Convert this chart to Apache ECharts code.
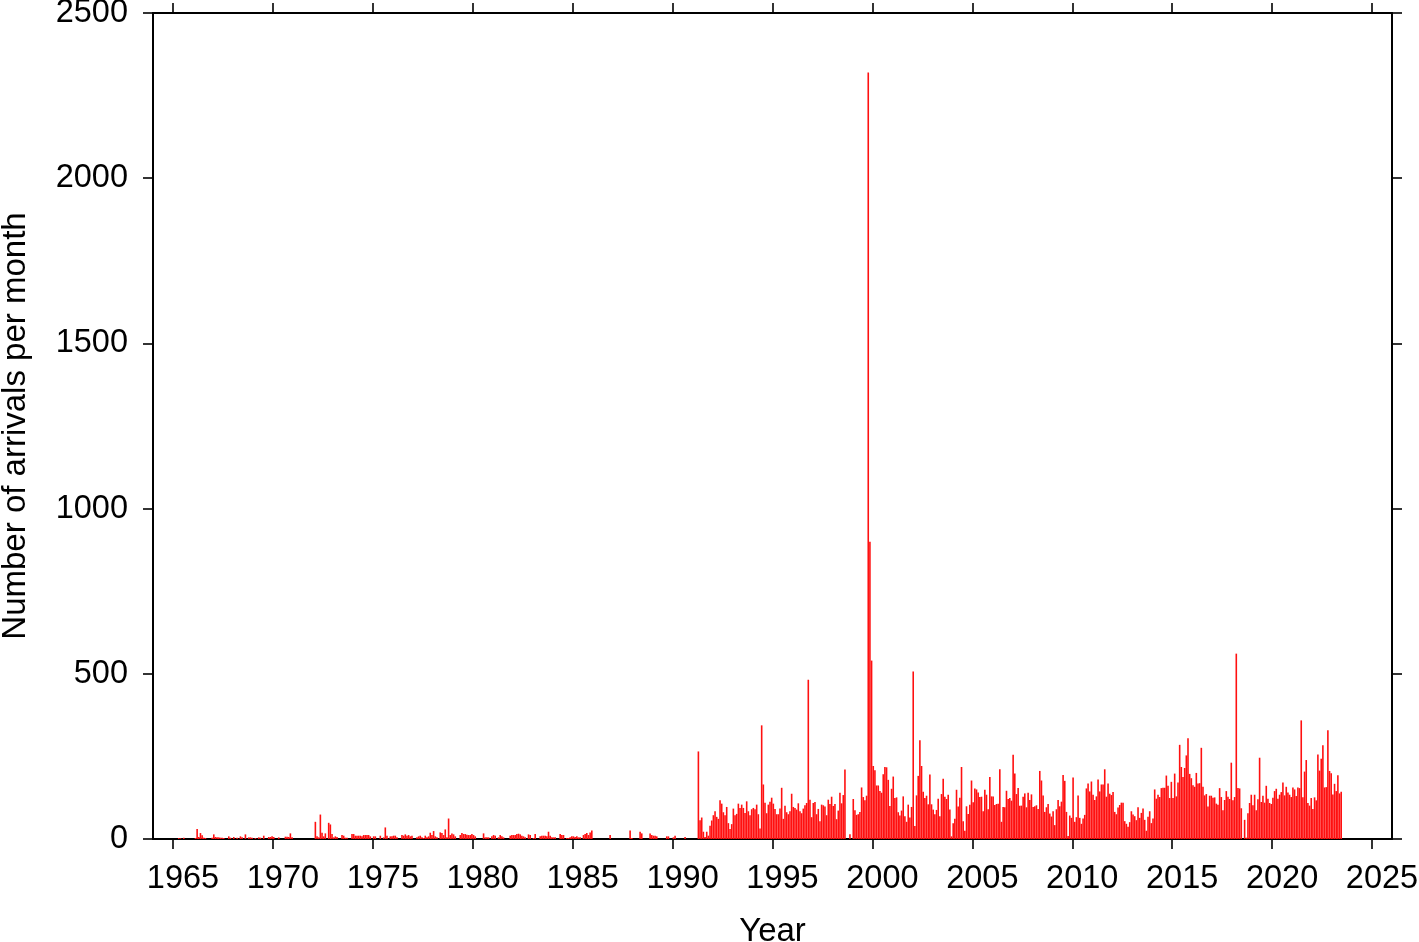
<!DOCTYPE html>
<html><head><meta charset="utf-8">
<script src="https://cdn.jsdelivr.net/npm/echarts@6/dist/echarts.min.js"></script>
<style>html,body{margin:0;padding:0;background:#fff}#c{width:1419px;height:942px}</style>
</head><body><div id="c"></div>
<script>
// Monthly arrivals, one row per year (Jan..Dec), starting January 1965
const firstYear = 1965;
const arrivals1960s = [
  0,0,0,3,2,0,4,0,0,0,0,0,          // 1965
  0,3,30,6,18,11,4,3,0,0,0,4,       // 1966
  14,6,5,5,4,4,3,0,0,8,4,0,         // 1967
  6,0,4,0,8,5,0,14,0,5,5,4,         // 1968
  0,3,0,5,4,0,10,0,0,6,6,8          // 1969
];
const arrivals1970s = [
  6,0,0,5,0,0,0,7,7,6,17,5,         // 1970
  0,0,0,0,0,0,0,0,0,0,0,0,          // 1971
  0,52,8,5,74,19,8,17,0,49,44,15,   // 1972
  5,8,6,0,0,12,10,4,4,0,0,15,       // 1973
  15,10,10,10,10,8,12,12,12,12,8,0, // 1974
  8,8,0,0,10,0,5,35,10,0,8,8,       // 1975
  10,10,5,0,0,12,10,14,10,12,8,10,  // 1976
  0,0,5,8,10,5,3,10,5,8,19,12,      // 1977
  24,8,5,0,20,18,12,29,5,62,12,17,  // 1978
  14,8,0,0,12,18,15,15,13,12,12,15  // 1979
];
const arrivals1980s = [
  12,8,0,0,0,0,17,5,5,5,0,8,        // 1980
  12,10,0,5,12,8,5,0,0,0,10,12,     // 1981
  12,12,15,16,14,10,8,5,0,14,12,0,  // 1982
  3,15,0,0,8,10,10,10,8,22,10,5,    // 1983
  5,5,0,0,15,12,12,0,3,3,5,8,       // 1984
  8,6,8,5,5,0,12,15,18,12,20,26,    // 1985
  0,0,0,0,0,0,0,0,0,0,12,0,         // 1986
  0,0,0,0,0,0,0,0,0,0,26,3,         // 1987
  0,0,0,0,22,17,0,0,0,0,17,12,      // 1988
  10,10,8,0,0,0,0,0,8,8,0,0         // 1989
];
const arrivals1990s = [
  5,10,0,0,0,0,0,6,0,0,0,0,                     // 1990
  0,0,0,265,57,65,22,6,22,10,40,56,             // 1991
  72,84,67,61,117,107,81,72,97,48,30,45,        // 1992
  92,72,76,107,94,104,94,79,114,84,72,90,       // 1993
  94,90,104,75,32,344,165,110,78,104,113,125,   // 1994
  107,91,75,75,92,155,61,101,81,75,84,137,      // 1995
  97,94,89,108,84,78,92,102,109,482,119,66,     // 1996
  109,112,75,91,54,104,102,98,72,119,106,128,   // 1997
  100,106,60,86,140,108,133,210,0,0,14,0,       // 1998
  121,87,73,75,82,156,127,117,131,2320,900,540  // 1999
];
const arrivals2000s = [
  221,208,162,162,145,140,196,218,217,179,100,152, // 2000
  189,124,126,81,71,86,129,69,52,104,65,97,        // 2001
  507,39,132,191,299,221,143,124,131,105,195,105,  // 2002
  89,75,88,122,69,136,182,128,121,134,89,8,        // 2003
  48,61,149,98,125,218,54,25,99,76,104,177,        // 2004
  111,153,150,141,127,128,84,149,134,90,188,129,   // 2005
  129,103,106,107,211,52,97,96,146,121,124,116,    // 2006
  255,198,136,154,101,101,128,138,96,140,118,135,  // 2007
  97,99,102,91,206,177,132,82,96,106,77,68,        // 2008
  84,42,90,118,99,113,194,176,82,9,71,64           // 2009
];
const arrivals2010s = [
  186,52,66,132,64,46,62,73,153,168,144,174,       // 2010
  134,118,129,180,144,165,165,211,128,168,137,133, // 2011
  142,82,75,95,103,110,110,54,46,37,51,84,         // 2012
  74,69,57,96,64,79,92,58,25,67,84,48,             // 2013
  62,150,122,134,127,154,155,155,192,161,124,173,  // 2014
  124,198,129,171,285,218,188,215,253,305,197,184, // 2015
  163,158,200,168,169,276,158,132,136,98,131,131,  // 2016
  125,126,107,104,154,127,87,118,145,128,121,231,  // 2017
  117,127,561,154,153,93,0,58,4,78,109,134,        // 2018
  102,134,87,120,246,112,131,110,161,122,109,106   // 2019
];
const arrivals2020s = [
  125,145,152,122,134,142,171,132,158,141,134,127, // 2020
  156,150,130,156,154,359,126,204,239,109,101,124, // 2021
  91,126,117,256,207,243,284,156,157,329,206,199,  // 2022
  135,167,145,193,138,143                          // 2023
];
// Ticks at the start of each 5th year; year annotations centred on that year
const yearTickValues = [1965,1970,1975,1980,1985,1990,1995,2000,2005,2010,2015,2020,2025];
const yearLabelValues = [1965.5,1970.5,1975.5,1980.5,1985.5,1990.5,1995.5,2000.5,2005.5,2010.5,2015.5,2020.5,2025.5];
const xLabel = 'Year';
const yLabel = 'Number of arrivals per month';

const monthly = [].concat(arrivals1960s, arrivals1970s, arrivals1980s, arrivals1990s, arrivals2000s, arrivals2010s, arrivals2020s);
const barData = monthly.map((v, i) => [firstYear + (i + 0.5) / 12, v]);

const FONT = 'Liberation Sans, Arial, Helvetica, sans-serif';
const lineStyle = { color: '#000', width: 2 };
const tickStyle = { color: '#000', width: 1.6 };

const chart = echarts.init(document.getElementById('c'), null, { renderer: 'canvas' });
chart.setOption({
  animation: false,
  backgroundColor: '#fff',
  grid: { left: 153, right: 27, top: 13, bottom: 103, containLabel: false, outerBoundsMode: 'none' },
  xAxis: [{
    type: 'value', position: 'bottom', min: 1964, max: 2026,
    name: xLabel, nameLocation: 'middle', nameGap: 76,
    nameTextStyle: { fontFamily: FONT, fontSize: 33, color: '#000' },
    axisLine: { show: true, onZero: false, lineStyle: lineStyle },
    axisTick: { show: true, length: 10, lineStyle: tickStyle, customValues: yearTickValues },
    axisLabel: { show: true, margin: 24, fontFamily: FONT, fontSize: 32.5, color: '#000', customValues: yearLabelValues, formatter: v => String(Math.floor(v)) },
    splitLine: { show: false }
  }, {
    type: 'value', position: 'top', min: 1964, max: 2026,
    axisLine: { show: true, onZero: false, lineStyle: lineStyle },
    axisTick: { show: true, length: 10, lineStyle: tickStyle, customValues: yearTickValues },
    axisLabel: { show: false },
    splitLine: { show: false }
  }],
  yAxis: [{
    type: 'value', position: 'left', min: 0, max: 2500, interval: 500,
    name: yLabel, nameLocation: 'middle', nameGap: 121,
    nameTextStyle: { fontFamily: FONT, fontSize: 33, color: '#000' },
    axisLine: { show: true, lineStyle: lineStyle },
    axisTick: { show: true, length: 10, lineStyle: tickStyle },
    axisLabel: { show: true, margin: 25, fontFamily: FONT, fontSize: 32.5, color: '#000', formatter: v => String(v) },
    splitLine: { show: false }
  }, {
    type: 'value', position: 'right', min: 0, max: 2500, interval: 500,
    axisLine: { show: true, lineStyle: lineStyle },
    axisTick: { show: true, length: 10, lineStyle: tickStyle },
    axisLabel: { show: false },
    splitLine: { show: false }
  }],
  series: [{
    type: 'bar', xAxisIndex: 0, yAxisIndex: 0,
    data: barData,
    barWidth: 1.6,
    itemStyle: { color: '#ff1010' },
    emphasis: { disabled: true }
  }]
});
</script></body></html>
